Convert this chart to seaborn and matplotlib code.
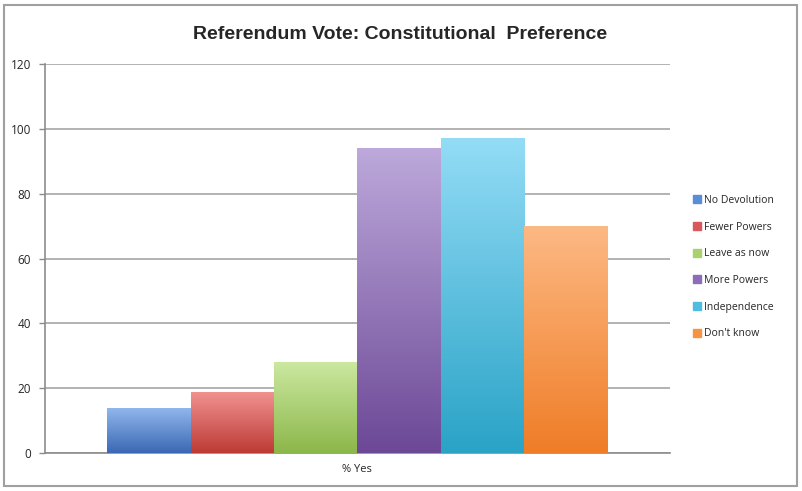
import numpy as np
import pandas as pd
import matplotlib
matplotlib.use("Agg")
import matplotlib.pyplot as plt
from matplotlib.colors import LinearSegmentedColormap
from matplotlib.patches import Rectangle
import seaborn as sns

# data
options = ['No Devolution', 'Fewer Powers', 'Leave as now', 'More Powers', 'Independence', "Don't know"]
pct_yes = [14, 19, 28, 94, 97, 70]
category = ['% Yes'] * len(options)

# (top, bottom) colours of the Excel-style gradient fills
top_colors = ['#93b8ec', '#f19392', '#cbe8a0', '#bda9db', '#93dcf6', '#fdb984']
bottom_colors = ['#3a68b5', '#bd3a34', '#8cb74a', '#6c4896', '#2aa3c6', '#ef7d27']
legend_colors = ['#5b8cd6', '#d9585a', '#a9d16e', '#8f6cb6', '#4fbde0', '#f59443']

df = pd.DataFrame({'group': category, 'option': options, 'value': pct_yes})

sns.set_style("white")
plt.rcParams['font.family'] = ['Open Sans', 'DejaVu Sans']

fig = plt.figure(figsize=(8.02, 4.91), dpi=100)
ax = fig.add_axes([0.056, 0.077, 0.779, 0.793])

sns.barplot(data=df, x='group', y='value', hue='option', hue_order=options,
            palette=legend_colors, width=0.8, ax=ax, legend=False, saturation=1)

# replace flat fills with vertical gradients
bars = [p for p in ax.patches if p.get_height() > 0]
bars = sorted(bars, key=lambda p: p.get_x())
for p, c_top, c_bot in zip(bars, top_colors, bottom_colors):
    x0, y0 = p.get_x(), p.get_y()
    w, h = p.get_width(), p.get_height()
    cmap = LinearSegmentedColormap.from_list('g', [c_bot, c_top])
    grad = np.linspace(0, 1, 256).reshape(-1, 1)
    im = ax.imshow(grad, cmap=cmap, origin='lower', aspect='auto',
                   extent=[x0, x0 + w, y0, y0 + h], zorder=3)
    im.set_clip_path(p)
    p.set_facecolor('none')
    p.set_edgecolor('none')
    p.set_zorder(3)

ax.set_xlim(-0.5, 0.5)
ax.set_ylim(0, 120)
ax.set_yticks(range(0, 121, 20))
ax.yaxis.grid(True, color='#a6a6a6', linewidth=1.2)
ax.set_axisbelow(True)
ax.set_xlabel('')
ax.set_ylabel('')
ax.set_xticks([0])
ax.set_xticklabels(['% Yes'])
ax.tick_params(axis='x', length=0, labelsize=8, pad=8)
ax.tick_params(axis='y', left=True, length=4, width=1, color='#8c8c8c', labelsize=8.5, pad=6)
for s in ['top', 'right']:
    ax.spines[s].set_visible(False)
for s in ['left', 'bottom']:
    ax.spines[s].set_color('#8c8c8c')
    ax.spines[s].set_linewidth(1.2)

handles = [Rectangle((0, 0), 1, 1, color=c) for c in legend_colors]
fig.legend(handles, options, loc='center left', bbox_to_anchor=(0.852, 0.456),
           frameon=False, fontsize=7.5, handlelength=0.8, handleheight=0.8,
           handletextpad=0.3, labelspacing=1.5)

fig.text(0.499, 0.93, 'Referendum Vote: Constitutional  Preference',
         ha='center', va='center', fontsize=14, fontweight='bold',
         family=['Liberation Sans Narrow', 'Liberation Sans', 'DejaVu Sans'])

# outer chart border
fig.patches.append(Rectangle((0.005, 0.01), 0.989, 0.98, transform=fig.transFigure,
                             fill=False, edgecolor='#a0a0a0', linewidth=1.5))

fig.savefig('out.png', dpi=100)
